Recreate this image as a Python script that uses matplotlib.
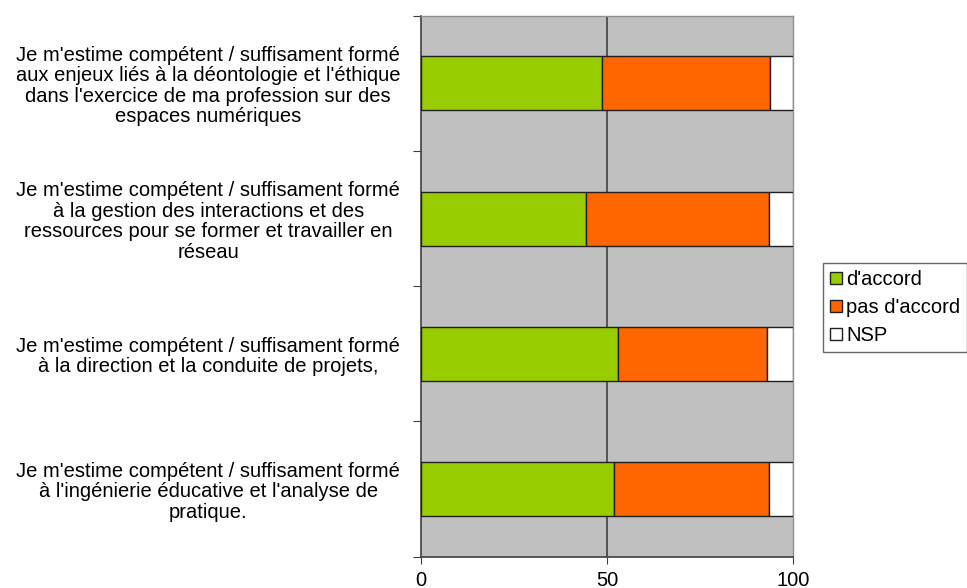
import matplotlib
matplotlib.use('Agg')
import matplotlib.pyplot as plt
import numpy as np

plt.rcParams['font.family'] = ['Liberation Sans', 'DejaVu Sans']

labels = [
    "Je m'estime compétent / suffisament formé\naux enjeux liés à la déontologie et l'éthique\ndans l'exercice de ma profession sur des\nespaces numériques",
    "Je m'estime compétent / suffisament formé\nà la gestion des interactions et des\nressources pour se former et travailler en\nréseau",
    "Je m'estime compétent / suffisament formé\nà la direction et la conduite de projets,",
    "Je m'estime compétent / suffisament formé\nà l'ingénierie éducative et l'analyse de\npratique.",
]
accord = [48.5, 44.3, 52.8, 51.7]
pas_accord = [45.2, 49.2, 40.1, 41.7]
nsp = [6.3, 6.5, 7.1, 6.6]
series_names = ["d'accord", "pas d'accord", "NSP"]
colors = ['#99CC00', '#FF6600', '#FFFFFF']

fig = plt.figure(figsize=(9.67, 5.88), dpi=100)
ax = fig.add_axes([0.4354, 0.0532, 0.3850, 0.9201])
ax.set_facecolor('#C0C0C0')

y = np.arange(len(labels))
left = np.zeros(len(labels))
for vals, name, c in zip([accord, pas_accord, nsp], series_names, colors):
    ax.barh(y, vals, left=left, height=0.4, color=c, edgecolor='#202020',
            linewidth=1, label=name, zorder=3)
    left = left + np.array(vals)

ax.set_xlim(0, 100)
ax.set_ylim(len(labels) - 0.5, -0.5)
ax.set_xticks([0, 50, 100])
ax.set_xticklabels(['0', '50', '100'], fontsize=14.5)
ax.axvline(50, color='#404040', lw=1.2, zorder=2)

ax.set_yticks(np.arange(len(labels) + 1) - 0.5)
ax.set_yticklabels([])
ax.set_yticks(y, minor=True)
ax.set_yticklabels(labels, minor=True, fontsize=14.5, multialignment='center',
                   linespacing=1.1)
ax.tick_params(axis='y', which='minor', length=0, pad=15)
ax.tick_params(axis='y', which='major', length=6, color='#404040')
ax.tick_params(axis='x', length=5, color='#404040', pad=5)

for s in ['left', 'bottom']:
    ax.spines[s].set_color('#404040')
    ax.spines[s].set_linewidth(1.2)
for s in ['top', 'right']:
    ax.spines[s].set_color('#909090')
    ax.spines[s].set_linewidth(1)

leg = fig.legend(loc='upper left', bbox_to_anchor=(823 / 967, 1 - 263 / 588),
                 fontsize=14.5, frameon=True, fancybox=False,
                 handlelength=0.6, handleheight=0.6, handletextpad=0.2,
                 borderpad=0.35, labelspacing=0.45, borderaxespad=0)
leg.get_frame().set_edgecolor('#404040')
leg.get_frame().set_linewidth(1)

fig.savefig('out.png', dpi=100)
